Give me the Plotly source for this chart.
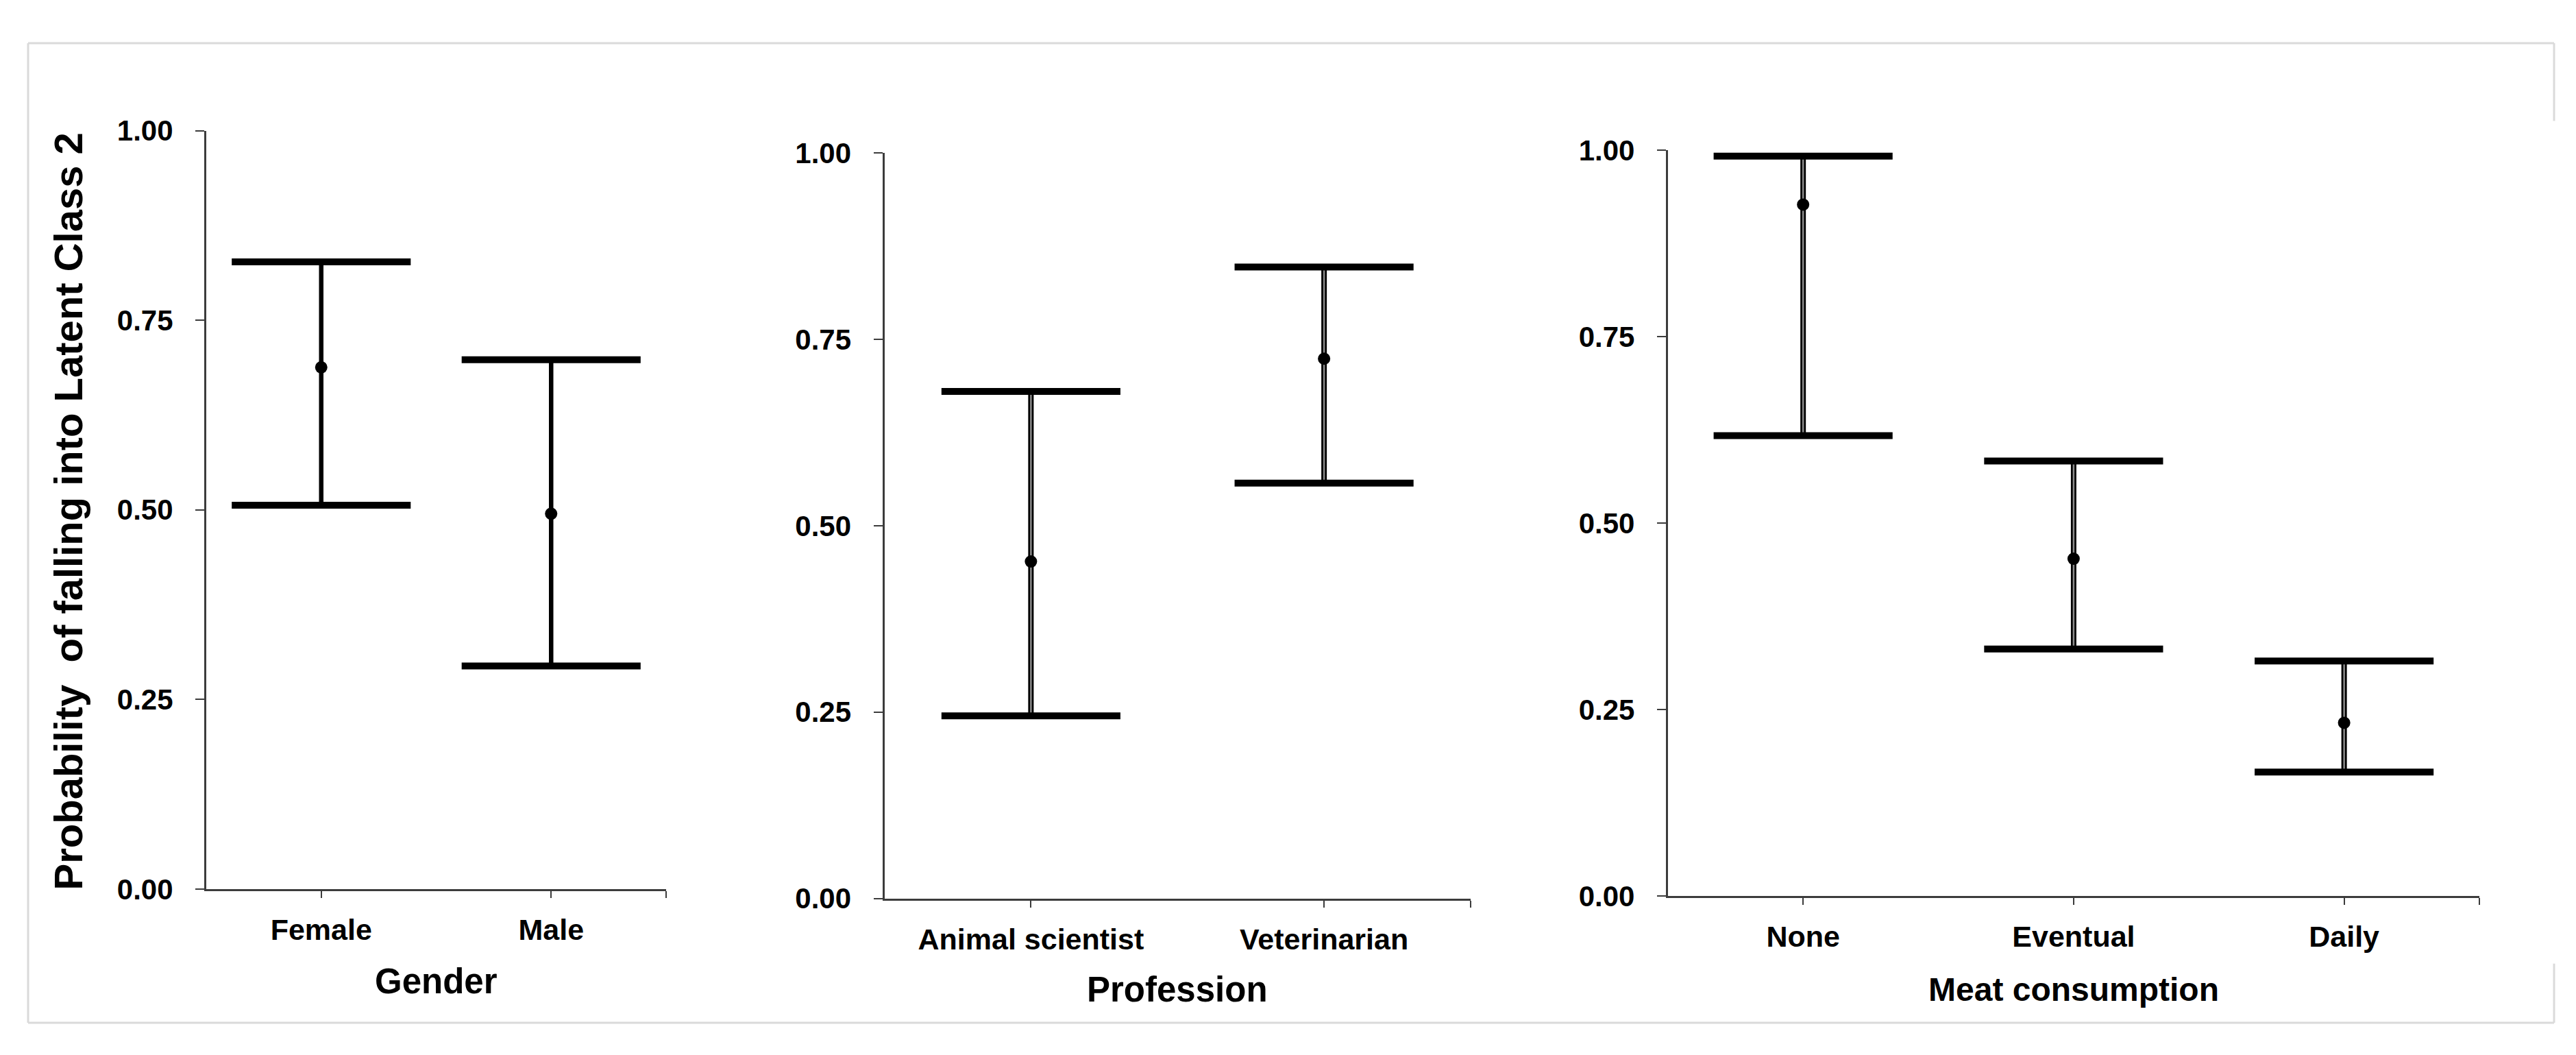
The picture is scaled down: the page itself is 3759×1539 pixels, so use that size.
import plotly.graph_objects as go

# ---------------- data ----------------
gender_cats = ["Female", "Male"]
gender_est = [0.688, 0.495]
gender_lo = [0.506, 0.294]
gender_hi = [0.827, 0.698]

prof_cats = ["Animal scientist", "Veterinarian"]
prof_est = [0.452, 0.724]
prof_lo = [0.245, 0.557]
prof_hi = [0.680, 0.847]

meat_cats = ["None", "Eventual", "Daily"]
meat_est = [0.927, 0.452, 0.232]
meat_lo = [0.617, 0.331, 0.166]
meat_hi = [0.992, 0.583, 0.315]

y_ticks = [0, 0.25, 0.5, 0.75, 1.0]
y_title = "Probability  of falling into Latent Class 2"
x_titles = ["Gender", "Profession", "Meat consumption"]

# ---------------- layout geometry ----------------
W, H = 3759, 1539

def px_x(v):
    return v / W

def px_y(v):
    return 1 - v / H

panels = [
    dict(cats=gender_cats, est=gender_est, lo=gender_lo, hi=gender_hi,
         x0=293, x1=964, ytop=164.7, ybot=1305.7, hollow=False, title_y=1445, tsize=51),
    dict(cats=prof_cats, est=prof_est, lo=prof_lo, hi=prof_hi,
         x0=1282.5, x1=2138, ytop=198.1, ybot=1320, hollow=True, title_y=1457, tsize=51),
    dict(cats=meat_cats, est=meat_est, lo=meat_lo, hi=meat_hi,
         x0=2425.8, x1=3610, ytop=193.9, ybot=1316, hollow=True, title_y=1457, tsize=48),
]

AX = "#3c3c3c"
FONT = "Liberation Sans, Arial, sans-serif"
CAP_PX = 263          # visual cap length in pixels
CAP_SIZE = CAP_PX / 1.41   # plotly line-ew draws 1.41*size

fig = go.Figure()
layout = dict(
    width=W, height=H,
    margin=dict(l=0, r=0, t=0, b=0),
    paper_bgcolor="white", plot_bgcolor="white",
    showlegend=False,
    annotations=[], shapes=[],
)

for i, p in enumerate(panels):
    n = len(p["cats"])
    sfx = "" if i == 0 else str(i + 1)
    xa, ya = "x" + sfx, "y" + sfx
    xs = list(range(n))
    up = [h - e for h, e in zip(p["hi"], p["est"])]
    dn = [e - l for e, l in zip(p["est"], p["lo"])]

    # whisker (black)
    fig.add_trace(go.Scatter(
        x=xs, y=p["est"], mode="markers", xaxis=xa, yaxis=ya,
        marker=dict(size=1, color="rgba(0,0,0,0)"),
        error_y=dict(type="data", symmetric=False, array=up, arrayminus=dn,
                     width=0, thickness=8 if p["hollow"] else 6.5, color="black"),
        hoverinfo="skip"))
    if p["hollow"]:
        fig.add_trace(go.Scatter(
            x=xs, y=p["est"], mode="markers", xaxis=xa, yaxis=ya,
            marker=dict(size=1, color="rgba(0,0,0,0)"),
            error_y=dict(type="data", symmetric=False, array=up, arrayminus=dn,
                         width=0, thickness=2.5, color="#8c8c8c"),
            hoverinfo="skip"))
    # caps
    fig.add_trace(go.Scatter(
        x=xs + xs, y=p["hi"] + p["lo"], mode="markers", xaxis=xa, yaxis=ya,
        marker=dict(symbol="line-ew", size=CAP_SIZE, color="black",
                    line=dict(width=10, color="black")),
        cliponaxis=False, hoverinfo="skip"))
    # points
    fig.add_trace(go.Scatter(
        x=xs, y=p["est"], mode="markers", xaxis=xa, yaxis=ya,
        marker=dict(symbol="circle", size=18, color="black"),
        cliponaxis=False))

    layout["xaxis" + sfx] = dict(
        domain=[px_x(p["x0"]), px_x(p["x1"])], anchor=ya,
        range=[-0.5, n - 0.5],
        tickvals=xs + [n - 0.5], ticktext=p["cats"] + [""],
        showline=True, linewidth=3, linecolor=AX,
        ticks="outside", ticklen=10, tickwidth=2, tickcolor=AX,
        showgrid=False, zeroline=False,
        tickfont=dict(family=FONT, size=43, color="black", weight="bold"),
        ticklabelstandoff=10,
    )
    layout["yaxis" + sfx] = dict(
        domain=[px_y(p["ybot"]), px_y(p["ytop"])], anchor=xa,
        range=[0, 1], tickvals=y_ticks, tickformat=".2f",
        showline=True, linewidth=3, linecolor=AX,
        ticks="outside", ticklen=13, tickwidth=2, tickcolor=AX,
        showgrid=False, zeroline=False,
        tickfont=dict(family=FONT, size=42, color="black", weight="bold"),
        ticklabelstandoff=24,
    )
    layout["annotations"].append(dict(
        text="<b>%s</b>" % x_titles[i], xref="paper", yref="paper",
        x=px_x((p["x0"] + p["x1"]) / 2), y=px_y(p["title_y"]),
        xanchor="center", yanchor="middle", showarrow=False,
        font=dict(family=FONT, size=p["tsize"], color="black")))

layout["annotations"].append(dict(
    text="<b>%s</b>" % y_title, xref="paper", yref="paper",
    x=px_x(91), y=px_y(738), textangle=-90,
    xanchor="center", yanchor="middle", showarrow=False,
    font=dict(family=FONT, size=58, color="black")))

# light frame around the figure
frame = dict(type="line", xref="paper", yref="paper",
             line=dict(color="#dadada", width=3))
for (a, b, c, d) in [(33, 33, 3719, 33), (33, 33, 33, 1507), (33, 1507, 3719, 1507),
                     (3719, 33, 3719, 150), (3719, 1418, 3719, 1507)]:
    s = dict(frame)
    s.update(x0=px_x(a), y0=px_y(b), x1=px_x(c), y1=px_y(d))
    layout["shapes"].append(s)

fig.update_layout(**layout)
fig.write_html("out.html")
